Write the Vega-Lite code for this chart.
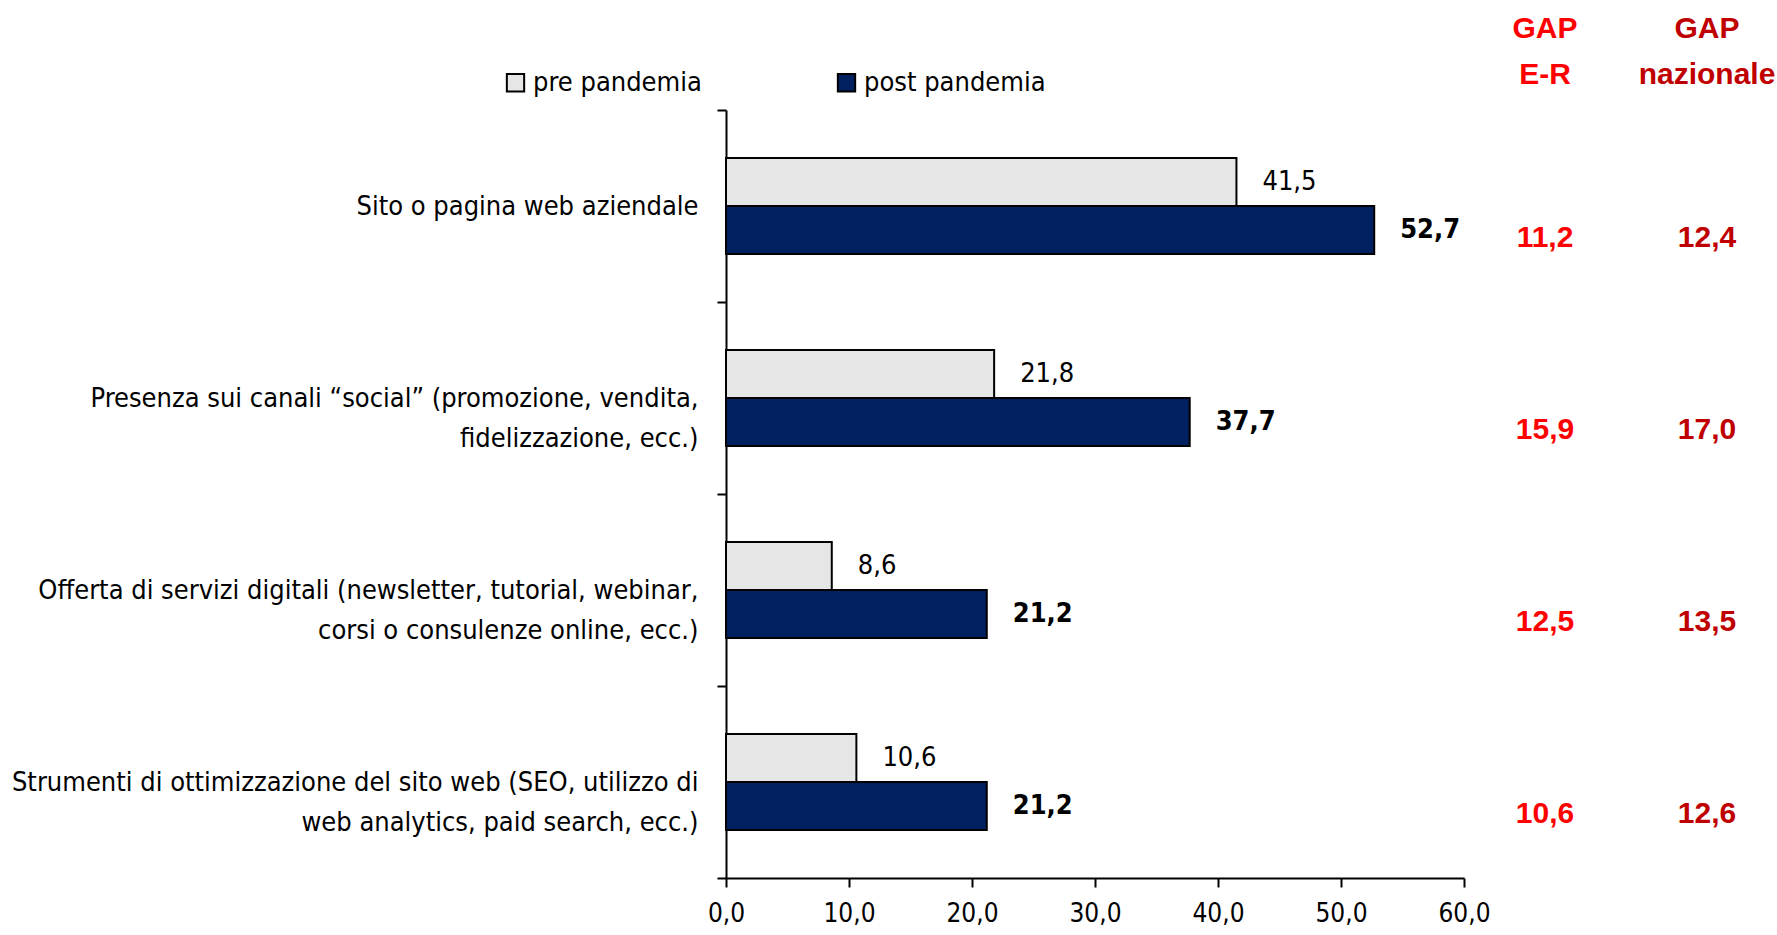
{
  "$schema": "https://vega.github.io/schema/vega-lite/v6.json",
  "padding": {"left": 11, "top": 14, "right": 5, "bottom": 5},
  "background": "white",
  "config": {
    "locale": {"number": {"decimal": ",", "thousands": ".", "grouping": [3], "currency": ["€", ""]}},
    "view": {"stroke": null},
    "font": "DejaVu Sans Condensed"
  },
  "datasets": {
    "bars": [
      {"cat": "Sito o pagina web aziendale", "period": "pre pandemia", "value": 41.5},
      {"cat": "Sito o pagina web aziendale", "period": "post pandemia", "value": 52.7},
      {"cat": "Presenza sui canali “social” (promozione, vendita,\nfidelizzazione, ecc.)", "period": "pre pandemia", "value": 21.8},
      {"cat": "Presenza sui canali “social” (promozione, vendita,\nfidelizzazione, ecc.)", "period": "post pandemia", "value": 37.7},
      {"cat": "Offerta di servizi digitali (newsletter, tutorial, webinar,\ncorsi o consulenze online, ecc.)", "period": "pre pandemia", "value": 8.6},
      {"cat": "Offerta di servizi digitali (newsletter, tutorial, webinar,\ncorsi o consulenze online, ecc.)", "period": "post pandemia", "value": 21.2},
      {"cat": "Strumenti di ottimizzazione del sito web (SEO, utilizzo di\nweb analytics, paid search, ecc.)", "period": "pre pandemia", "value": 10.6},
      {"cat": "Strumenti di ottimizzazione del sito web (SEO, utilizzo di\nweb analytics, paid search, ecc.)", "period": "post pandemia", "value": 21.2}
    ],
    "gaps": [
      {"cat": "Sito o pagina web aziendale", "gap_er": 11.2, "gap_naz": 12.4},
      {"cat": "Presenza sui canali “social” (promozione, vendita,\nfidelizzazione, ecc.)", "gap_er": 15.9, "gap_naz": 17.0},
      {"cat": "Offerta di servizi digitali (newsletter, tutorial, webinar,\ncorsi o consulenze online, ecc.)", "gap_er": 12.5, "gap_naz": 13.5},
      {"cat": "Strumenti di ottimizzazione del sito web (SEO, utilizzo di\nweb analytics, paid search, ecc.)", "gap_er": 10.6, "gap_naz": 12.6}
    ]
  },
  "bounds": "flush",
  "spacing": 0,
  "hconcat": [
    {
      "width": 738,
      "height": 768,
      "data": {"name": "bars"},
      "encoding": {
        "y": {
          "field": "cat", "type": "nominal", "sort": null,
          "scale": {"paddingInner": 0, "paddingOuter": 0},
          "axis": {
            "title": null,
            "domainColor": "black", "domainWidth": 2,
            "tickColor": "black", "tickWidth": 2, "tickSize": 9, "tickBand": "extent",
            "labelFont": "DejaVu Sans Condensed", "labelFontSize": 27, "labelColor": "black",
            "labelLineHeight": 40, "labelLimit": 1000, "labelBaseline": "middle",
            "labelExpr": "split(datum.label, '\\n')",
            "labelAlign": "right",
            "labelPadding": 19
          }
        },
        "yOffset": {"field": "period", "type": "nominal", "sort": ["pre pandemia", "post pandemia"], "scale": {"paddingInner": 0, "paddingOuter": 1}},
        "x": {
          "field": "value", "type": "quantitative",
          "scale": {"domain": [0, 60]},
          "axis": {
            "title": null, "values": [0, 10, 20, 30, 40, 50, 60], "format": ".1f",
            "domainColor": "black", "domainWidth": 2,
            "tickColor": "black", "tickWidth": 2, "tickSize": 9,
            "labelFont": "DejaVu Sans Condensed", "labelFontSize": 26, "labelColor": "black",
            "labelPadding": 13, "grid": false, "labelFlush": false
          }
        }
      },
      "layer": [
        {
          "mark": {"type": "bar", "stroke": "black", "strokeWidth": 2},
          "encoding": {
            "color": {
              "field": "period", "type": "nominal",
              "scale": {"domain": ["pre pandemia", "post pandemia"], "range": ["#E6E6E6", "#002060"]},
              "legend": {
                "title": null, "orient": "none", "legendX": -224, "legendY": -41,
                "direction": "horizontal", "symbolType": "square", "symbolSize": 300,
                "symbolStrokeColor": "black", "symbolStrokeWidth": 2,
                "labelFont": "DejaVu Sans Condensed", "labelFontSize": 27, "labelColor": "black",
                "columnPadding": 131, "labelOffset": 4, "labelLimit": 1000
              }
            }
          }
        },
        {
          "transform": [{"filter": "datum.period === 'pre pandemia'"}],
          "mark": {"type": "text", "align": "left", "baseline": "middle", "dx": 26, "fontSize": 27, "font": "DejaVu Sans Condensed", "color": "black"},
          "encoding": {"text": {"field": "value", "type": "quantitative", "format": ".1f"}}
        },
        {
          "transform": [{"filter": "datum.period === 'post pandemia'"}],
          "mark": {"type": "text", "align": "left", "baseline": "middle", "dx": 26, "fontSize": 27, "fontWeight": "bold", "font": "DejaVu Sans Condensed", "color": "black"},
          "encoding": {"text": {"field": "value", "type": "quantitative", "format": ".1f"}}
        }
      ]
    },
    {
      "width": 162,
      "height": 768,
      "data": {"name": "gaps"},
      "title": {"text": ["GAP", "E-R"], "color": "#FF0000", "font": "Liberation Sans", "fontSize": 30, "fontWeight": "bold", "anchor": "middle", "lineHeight": 46, "offset": 20},
      "mark": {"type": "text", "font": "Liberation Sans", "fontSize": 30, "fontWeight": "bold", "color": "#FF0000", "baseline": "middle", "dy": 32},
      "encoding": {
        "y": {"field": "cat", "type": "nominal", "sort": null, "axis": null, "scale": {"paddingInner": 0, "paddingOuter": 0}},
        "text": {"field": "gap_er", "type": "quantitative", "format": ".1f"}
      }
    },
    {
      "width": 162,
      "height": 768,
      "data": {"name": "gaps"},
      "title": {"text": ["GAP", "nazionale"], "color": "#C00000", "font": "Liberation Sans", "fontSize": 30, "fontWeight": "bold", "anchor": "middle", "lineHeight": 46, "offset": 20},
      "mark": {"type": "text", "font": "Liberation Sans", "fontSize": 30, "fontWeight": "bold", "color": "#C00000", "baseline": "middle", "dy": 32},
      "encoding": {
        "y": {"field": "cat", "type": "nominal", "sort": null, "axis": null, "scale": {"paddingInner": 0, "paddingOuter": 0}},
        "text": {"field": "gap_naz", "type": "quantitative", "format": ".1f"}
      }
    }
  ]
}
